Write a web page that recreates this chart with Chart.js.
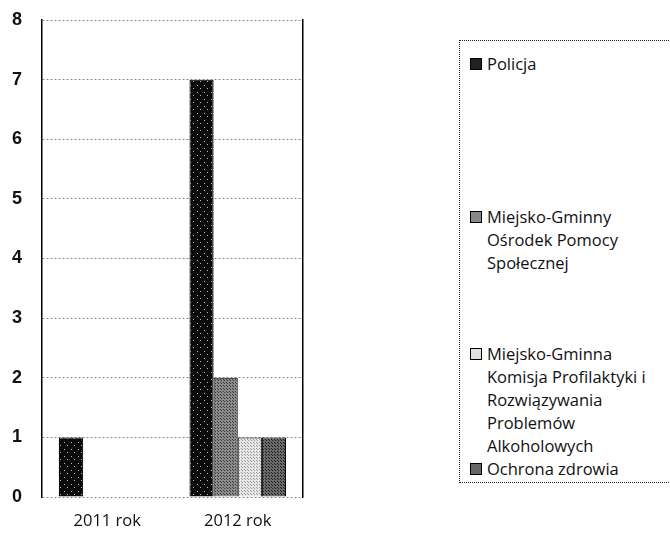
<!DOCTYPE html>
<html lang="pl">
<head>
<meta charset="UTF-8">
<title>Wykres</title>
<script src="https://cdn.jsdelivr.net/npm/chart.js@4.4.0/dist/chart.umd.min.js"></script>
<style>
    body { margin: 0; background: #fff; width: 670px; height: 533px; position: relative; overflow: hidden; }
    #wrap { position: absolute; left: 0; top: 0; width: 330px; height: 533px; }
    #legend {
        position: absolute; left: 459px; top: 40px; width: 240px; height: 443px;
        border: 1px dotted #222; box-sizing: border-box;
        font-family: "Open Sans", sans-serif; font-size: 16.5px; color: #111; line-height: 23px;
    }
    .item { position: absolute; left: 10px; right: 0; display: flex; align-items: flex-start; }
    .box { flex: none; width: 10px; height: 10px; border: 1px solid #000; margin: 6px 5px 0 0; }
    .item span { white-space: pre; }
</style>
</head>
<body>
<div id="wrap"><canvas id="chart"></canvas></div>
<div id="legend"></div>
<script>
    const years = ['2011 rok', '2012 rok'];
    const seriesNames = [
        'Policja',
        'Miejsko-Gminny\nOśrodek Pomocy\nSpołecznej',
        'Miejsko-Gminna\nKomisja Profilaktyki i\nRozwiązywania\nProblemów\nAlkoholowych',
        'Ochrona zdrowia'
    ];
    const policja = [1, 7];
    const mgops = [0, 2];
    const komisja = [0, 1];
    const ochrona = [0, 1];
    const yTicks = [0, 1, 2, 3, 4, 5, 6, 7, 8];

    // simple grey textures, like the scanned print
    function texture(base, dot, step) {
        let c = document.createElement('canvas');
        c.width = step; c.height = step;
        let g = c.getContext('2d');
        g.fillStyle = base;
        g.fillRect(0, 0, step, step);
        g.fillStyle = dot;
        g.fillRect(1, 1, 1, 1);
        g.fillRect(Math.floor(step / 2) + 1, Math.floor(step / 2) + 1, 1, 1);
        return g.createPattern(c, 'repeat');
    }
    const ctx = document.getElementById('chart').getContext('2d');
    const fills = [
        texture('#0a0a0a', '#bbbbbb', 7),
        texture('#8a8a8a', '#3a3a3a', 3),
        texture('#e6e6e6', '#9a9a9a', 3),
        texture('#6a6a6a', '#1e1e1e', 3)
    ];
    const legendFills = ['#222', '#888', '#e0e0e0', '#666'];
    const values = [policja, mgops, komisja, ochrona];

    new Chart(ctx, {
        type: 'bar',
        data: {
            labels: years,
            datasets: values.map((v, i) => ({
                label: seriesNames[i],
                data: v,
                backgroundColor: fills[i],
                borderColor: '#000',
                borderWidth: 1,
                barPercentage: 1,
                categoryPercentage: 0.74
            }))
        },
        options: {
            responsive: true,
            maintainAspectRatio: false,
            animation: false,
            layout: { padding: { top: 20, right: 27, left: 0, bottom: 0 } },
            plugins: { legend: { display: false }, tooltip: { enabled: false } },
            scales: {
                x: {
                    grid: { display: false },
                    border: { display: false },
                    ticks: { color: '#111', font: { family: 'Open Sans', size: 16.5 }, padding: 6 },
                    afterFit: s => { s.height = 36; s.paddingLeft = 0; s.paddingRight = 0; }
                },
                y: {
                    min: 0, max: 8,
                    afterBuildTicks: s => { s.ticks = yTicks.map(v => ({ value: v })); },
                    grid: { color: '#8a8a8a', drawTicks: false, lineWidth: 1 },
                    border: { color: '#000', width: 1.5, dash: [2, 2] },
                    ticks: { color: '#111', font: { family: 'Liberation Sans', size: 18, weight: 'bold' }, padding: 20 },
                    afterFit: s => { s.width = 42; s.paddingTop = 0; s.paddingBottom = 0; }
                },
                y1: {
                    position: 'right',
                    min: 0, max: 8,
                    grid: { display: false },
                    border: { color: '#000', width: 1.5 },
                    ticks: { display: false },
                    afterFit: s => { s.width = 0; s.paddingTop = 0; s.paddingBottom = 0; }
                }
            }
        }
    });

    // legend with the same series names, laid out as in the picture
    const tops = [11, 164, 301, 416];
    const legend = document.getElementById('legend');
    seriesNames.forEach((name, i) => {
        let item = document.createElement('div');
        item.className = 'item';
        item.style.top = tops[i] + 'px';
        let box = document.createElement('div');
        box.className = 'box';
        box.style.background = legendFills[i];
        let txt = document.createElement('span');
        txt.textContent = name;
        item.appendChild(box);
        item.appendChild(txt);
        legend.appendChild(item);
    });
</script>
</body>
</html>
